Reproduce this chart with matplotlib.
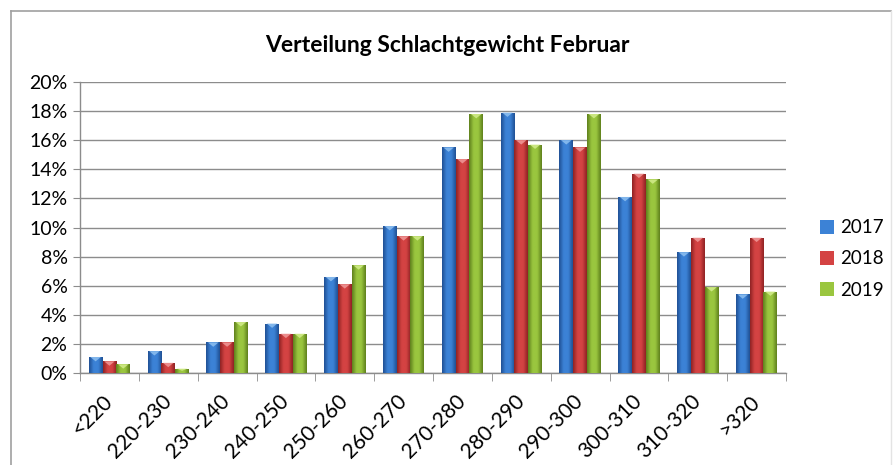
import numpy as np
import matplotlib
matplotlib.use("Agg")
import matplotlib.pyplot as plt
from matplotlib.colors import LinearSegmentedColormap
from matplotlib.lines import Line2D
from matplotlib.patches import Polygon
from matplotlib.ticker import FuncFormatter, MultipleLocator

categories = ["<220", "220-230", "230-240", "240-250", "250-260", "260-270",
              "270-280", "280-290", "290-300", "300-310", "310-320", ">320"]
years = ["2017", "2018", "2019"]
v2017 = [1.1, 1.5, 2.1, 3.4, 6.6, 10.1, 15.5, 17.9, 16.0, 12.1, 8.3, 5.4]
v2018 = [0.8, 0.7, 2.1, 2.7, 6.1, 9.4, 14.7, 16.0, 15.5, 13.7, 9.3, 9.3]
v2019 = [0.6, 0.3, 3.5, 2.7, 7.4, 9.4, 17.8, 15.7, 17.8, 13.3, 5.9, 5.6]

# (dark edge, mid, light top) per series
palette = [("#1F4F93", "#3C82D6", "#8EC0F0"),
           ("#8E2223", "#D44343", "#F09A9A"),
           ("#5E7F1C", "#9AC63F", "#D3EC8C")]

plt.rcParams["font.family"] = ["Lato", "DejaVu Sans"]

fig = plt.figure(figsize=(8.94, 4.65), dpi=100)
ax = fig.add_axes([80 / 894, 1 - 373 / 465, (786 - 80) / 894, (373 - 82) / 465])

x = np.arange(len(categories))
w = 0.235
for i, (vals, (dark, mid, light), lab) in enumerate(zip([v2017, v2018, v2019], palette, years)):
    bars = ax.bar(x + (i - 1) * w, vals, width=w, color=mid, edgecolor="none",
                  label=lab, zorder=3)
    cmap = LinearSegmentedColormap.from_list(lab, [dark, mid, mid, dark])
    grad = np.linspace(0, 1, 64).reshape(1, -1)
    for b in bars:
        x0, bw, h = b.get_x(), b.get_width(), b.get_height()
        im = ax.imshow(grad, extent=[x0, x0 + bw, 0, h], aspect="auto",
                       cmap=cmap, zorder=3.1, interpolation="bicubic")
        im.set_clip_path(b)
        dh = min(0.3, h * 0.5)
        ax.add_patch(Polygon([(x0 + 0.12 * bw, h), (x0 + 0.88 * bw, h), (x0 + bw / 2, h - dh)],
                             closed=True, facecolor=light, edgecolor="none",
                             alpha=0.85, zorder=3.2))

ax.set_xlim(-0.5, len(categories) - 0.5)
ax.set_ylim(0, 20)
ax.set_aspect("auto")
ax.yaxis.set_major_locator(MultipleLocator(2))
ax.yaxis.set_major_formatter(FuncFormatter(lambda v, p: f"{v:.0f}%"))
ax.grid(axis="y", color="#8C8C8C", linewidth=1.0, zorder=0)
ax.set_axisbelow(True)

for s in ["top", "right"]:
    ax.spines[s].set_visible(False)
for s in ["left", "bottom"]:
    ax.spines[s].set_color("#8C8C8C")
    ax.spines[s].set_linewidth(1.0)

ax.set_xticks(x)
ax.set_xticklabels(categories, rotation=45, ha="right", va="center",
                   rotation_mode="anchor", fontsize=15)
ax.tick_params(axis="x", length=0, pad=18)
ax.set_xticks(np.arange(-0.5, len(categories)), minor=True)
ax.tick_params(axis="x", which="minor", length=6, color="#8C8C8C")
ax.tick_params(axis="y", labelsize=14, length=5, color="#8C8C8C", pad=4)

fig.text(0.5, 1 - 45 / 465, "Verteilung Schlachtgewicht Februar", ha="center",
         va="center", fontsize=16.5, fontweight="bold")

ax.legend(loc="center left", bbox_to_anchor=(803 / 894, 1 - 259 / 465),
          bbox_transform=fig.transFigure, frameon=False, fontsize=13.5,
          handlelength=0.75, handleheight=0.75, handletextpad=0.35, labelspacing=0.75)

# chart frame
frame = dict(color="#A0A0A0", linewidth=1.2, transform=fig.transFigure)
fig.add_artist(Line2D([11 / 894, 891 / 894], [1 - 11 / 465, 1 - 11 / 465], **frame))
fig.add_artist(Line2D([11 / 894, 11 / 894], [1 - 11 / 465, 0], **frame))
fig.add_artist(Line2D([891 / 894, 891 / 894], [1 - 11 / 465, 0], color="#E4E4E4",
                      linewidth=1, transform=fig.transFigure))

fig.savefig("out.png", dpi=100)
